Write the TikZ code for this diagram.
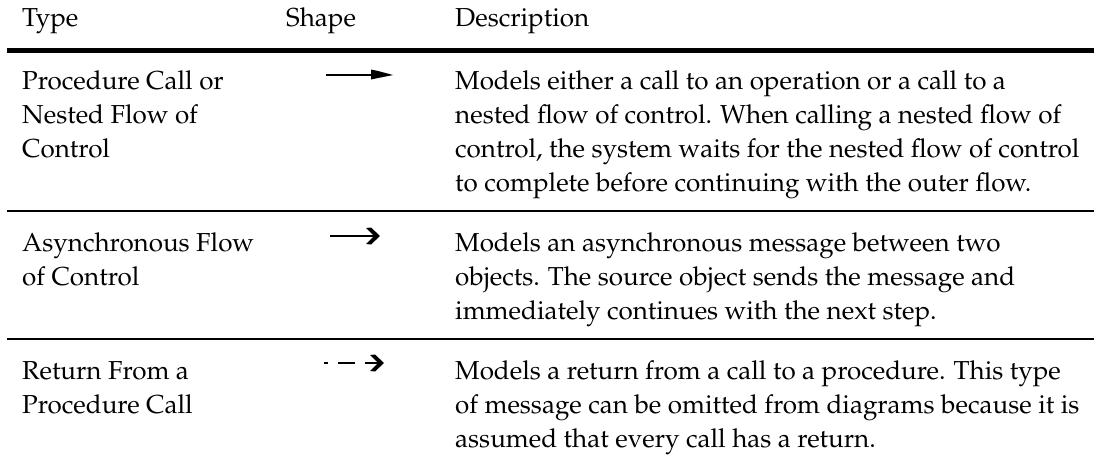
\documentclass[tikz,border=0pt]{standalone}
\usepackage[T1]{fontenc}
\usepackage{mathpazo}
\usetikzlibrary{calc}
\begin{document}
\begin{tikzpicture}[x=1pt,y=-1pt,
  txt/.style={anchor=base west, inner sep=0pt, align=left, font=\fontsize{26}{34}\selectfont},
  thickrule/.style={line width=5pt},
  thinrule/.style={line width=1.6pt},
  shaft/.style={line width=1.8pt},
  headfill/.style={fill=black}]
\useasboundingbox (0,0) rectangle (1101,463);
% header
\node[txt] (hType) at (22,27) {Type};
\node[txt] (hShape) at (286,27) {Shape};
\node[txt] (hDesc) at (455,27) {Description};
\coordinate (r0a) at (7,50);
\coordinate (r0b) at (1094,50);
\draw[thickrule] (r0a) -- (r0b);
% row 1 (base anchor = last line)
\node[txt] (t1) at (22,157) {Procedure Call or\\Nested Flow of\\Control};
\node[txt] (d1) at (455,191) {Models either a call to an operation or a call to a\\nested flow of control. When calling a nested flow of\\control, the system waits for the nested flow of control\\to complete before continuing with the outer flow.};
\coordinate (a1s) at (326,75);
\coordinate (a1e) at (371,75);
\draw[shaft] (a1s) -- (a1e);
\fill[headfill,shift={(a1e)}] (0,-5.5) -- (7,-4) -- (22,0) -- (7,3) -- (0,4.5) -- cycle;
\coordinate (r1a) at (7,211);
\coordinate (r1b) at (1094,211);
\draw[thinrule] (r1a) -- (r1b);
% row 2
\node[txt] (t2) at (22,285) {Asynchronous Flow\\of Control};
\node[txt] (d2) at (455,319) {Models an asynchronous message between two\\objects. The source object sends the message and\\immediately continues with the next step.};
\coordinate (a2s) at (330,236);
\coordinate (a2e) at (380,236);
\draw[shaft] (a2s) -- ($(a2e)+(-6,0)$);
\fill[headfill,shift={(a2e)}] (0,0) -- (-9,-8.5) -- (-14,-8) -- (-7,-1) -- (-7,1) -- (-14,8) -- (-9,8.5) -- cycle;
\coordinate (r2a) at (7,339);
\coordinate (r2b) at (1094,339);
\draw[thinrule] (r2a) -- (r2b);
% row 3
\node[txt] (t3) at (22,413) {Return From a\\Procedure Call};
\node[txt] (d3) at (455,447) {Models a return from a call to a procedure. This type\\of message can be omitted from diagrams because it is\\assumed that every call has a return.};
\coordinate (a3s) at (324,363);
\coordinate (a3e) at (384,363);
\draw[shaft] (a3s) -- ++(3.5,0);
\draw[shaft] ($(a3s)+(14,0)$) -- ++(17,0);
\fill[headfill,shift={(a3e)}] (0,0) -- (-9,-8.5) -- (-14,-8) -- (-7,-1) -- (-7,1) -- (-14,8) -- (-9,8.5) -- cycle;
\draw[shaft] ($(a3e)+(-19,0)$) -- ($(a3e)+(-6,0)$);
\end{tikzpicture}
\end{document}
